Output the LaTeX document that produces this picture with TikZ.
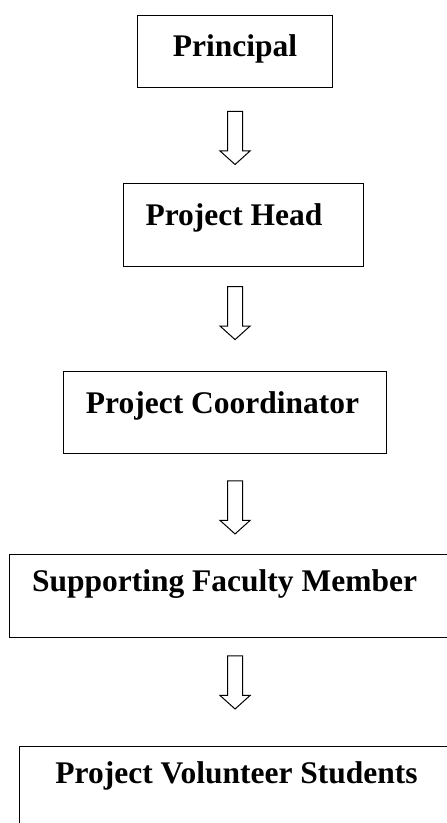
\documentclass[tikz,border=0pt]{standalone}
\usepackage{fontspec}
\setmainfont{Liberation Serif}
\usepackage{tikz}
\usetikzlibrary{calc}
\usetikzlibrary{shapes.arrows}

\begin{document}
\begin{tikzpicture}[x=1pt,y=-1pt]
	\tikzstyle{every node}=[font=\fontsize{31.5}{36}\selectfont\bfseries]
	\tikzset{box/.style={draw, line width=1.1pt, inner sep=0pt, anchor=north west},
		lbl/.style={anchor=base, inner sep=0pt},
		blk/.style={single arrow, draw, line width=1pt, rotate=-90, inner sep=7pt,
			minimum width=29pt, minimum height=53pt,
			single arrow head extend=7.5pt, single arrow tip angle=96}}
	
	\clip (0,0) rectangle (447,823);
	
	% boxes
	\node[box, minimum width=195pt, minimum height=72pt] (principal) at (137,15) {};
	\node[box, minimum width=240pt, minimum height=83pt] (head) at (123,183) {};
	\node[box, minimum width=323pt, minimum height=82pt] (coord) at (63,371) {};
	\node[box, minimum width=460pt, minimum height=83pt] (faculty) at (9,554) {};
	\node[box, minimum width=460pt, minimum height=95pt] (students) at (19,746) {};
	
	% texts
	\node[lbl] (tprincipal) at (235,56) {Principal};
	\node[lbl] (thead) at (234,225) {Project Head};
	\node[lbl] (tcoord) at (222.5,413) {Project Coordinator};
	\node[lbl] (tfaculty) at (224.5,591) {Supporting Faculty Member};
	\node[lbl] (tstudents) at (236.5,783) {Project Volunteer Students};
	
	% arrows
	\path (principal.south) -- (principal.south |- head.north) node[blk, pos=0.49] (a1) {};
	\path (a1 |- head.south) -- (a1 |- coord.north) node[blk, pos=0.41] (a2) {};
	\path (a1 |- coord.south) -- (a1 |- faculty.north) node[blk, pos=0.5] (a3) {};
	\path (a1 |- faculty.south) -- (a1 |- students.north) node[blk, pos=0.38] (a4) {};
	
\end{tikzpicture}
\end{document}
